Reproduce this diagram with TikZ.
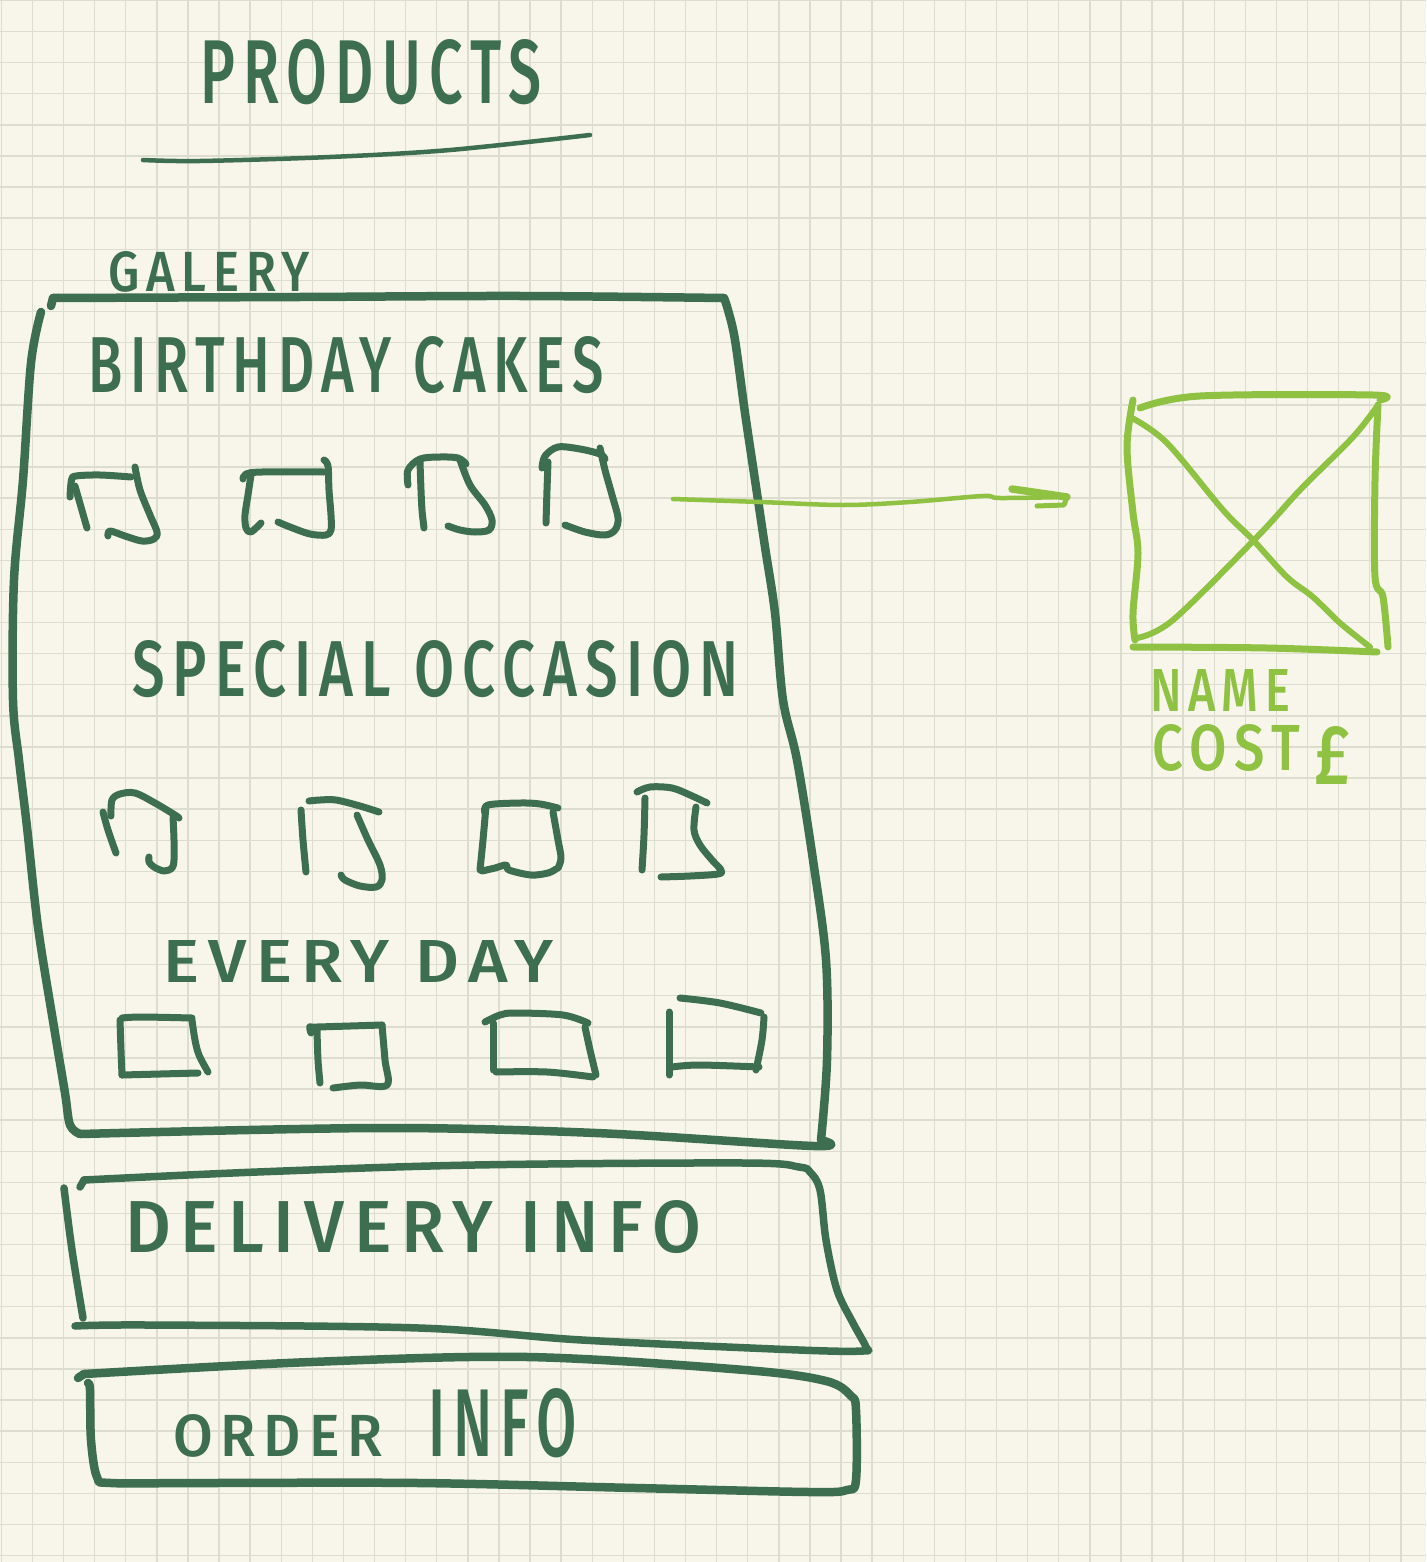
\documentclass[tikz,border=0pt]{standalone}
\usepackage{fontspec}
\usepackage{graphicx}
\setmainfont{Fira Sans}[UprightFont={* Medium}]
\definecolor{paper}{HTML}{F8F6EA}
\definecolor{gridc}{HTML}{DCDDCF}
\definecolor{ink}{HTML}{3D6E50}
\definecolor{lime}{HTML}{8FC142}
% scale a caps label to an exact width and cap height, with airy letter spacing
\newcommand{\hw}[3]{\resizebox{#1pt}{#2pt}{\fontsize{72}{72}\selectfont\addfontfeature{LetterSpace=14}#3}}
\tikzset{
  pen/.style={draw=ink, line width=7.5pt, line cap=round, line join=round},
  frame/.style={pen, line width=8.5pt},
  thumbline/.style={pen, line width=7pt},
  limepen/.style={draw=lime, line width=7pt, line cap=round, line join=round},
  label/.style={inner sep=0pt, outer sep=0pt, anchor=base west, text=ink},
  sm/.style={smooth, tension=0.55},
}
\begin{document}
\begin{tikzpicture}[x=1pt,y=-1pt]
\useasboundingbox (0,0) rectangle (1426,1562);
\fill[paper] (0,0) rectangle (1426,1562);
% squared paper
\foreach \k in {0,...,45} \draw[gridc, line width=1.4pt] ({1.3+31.1*\k},0) -- ({1.3+31.1*\k},1562);
\foreach \k in {0,...,50} \draw[gridc, line width=1.4pt] (0,{0.5+31.1*\k}) -- (1426,{0.5+31.1*\k});

% title and underline
\node[label] (title) at (200,104) {\hw{342}{64}{PRODUCTS}};
\draw[pen, line width=4.5pt] plot[sm] coordinates {(143,160) (200,161) (330,157) (450,150) (590,135)};

% gallery frame, one side at a time
\node[label] (galery) at (108,291) {\hw{202}{40}{GALERY}};
\draw[frame] (51,306) -- (53,298);
\draw[frame] plot[sm] coordinates {(53,298) (300,297) (520,296) (724,298)};
\draw[frame] plot[sm] coordinates {(724,298) (728,310) (735,340) (745,413) (755,480) (765,547) (775,613) (783,700) (797,760) (813,860) (826,960) (827,1060) (821,1140)};
\draw[frame] plot[sm] coordinates {(821,1140) (814,1146) (596,1133) (379,1128) (80,1134)};
\draw[frame] plot[sm] coordinates {(41,312) (31,363) (23,480) (14,580) (13,700) (19,760) (27,827) (38,927) (54,1027) (65,1093) (70,1125) (80,1134)};

\node[label] (birthday) at (88,392) {\hw{516}{56}{BIRTHDAY CAKES}};
\node[label] (special) at (132,696) {\hw{607}{56}{SPECIAL OCCASION}};
\node[label] (everyday) at (163,982) {\hw{390}{42}{EVERY DAY}};

% birthday cake thumbnails
\draw[thumbline] plot[sm] coordinates {(70,497) (71.5,480) (76,476) (100,475) (131,477)};
\draw[thumbline] plot[sm] coordinates {(75,486) (81,507) (87,528)};
\draw[thumbline] plot[sm] coordinates {(135,467) (140,490) (150,515) (157,532) (154,539) (142,541) (125,536) (110,531) (108,536)};
\draw[thumbline] plot[sm] coordinates {(243,479) (246,474) (262,472) (324,472)};
\draw[thumbline] plot[sm] coordinates {(251,475) (248,495) (245,515) (246,528) (251,532) (261,523)};
\draw[thumbline] plot[sm] coordinates {(324,460) (328,466) (329,490) (331,515) (331,530) (326,535) (310,534) (290,527) (278,522)};
\draw[thumbline] plot[sm] coordinates {(408,485) (408,470) (420,459) (440,457) (458,458) (466,464)};
\draw[thumbline] plot[sm] coordinates {(420,462) (421,490) (422,510) (424,528)};
\draw[thumbline] plot[sm] coordinates {(460,460) (470,485) (485,505) (492,520) (489,530) (475,532) (460,530) (448,526)};
\draw[thumbline] plot[sm] coordinates {(542,468) (545,456) (558,447) (580,449) (600,454) (605,459)};
\draw[thumbline] plot[sm] coordinates {(548,462) (547,490) (546,523)};
\draw[thumbline] plot[sm] coordinates {(600,448) (605,470) (612,495) (618,518) (615,530) (605,535) (585,532) (565,525)};

% special occasion thumbnails
\draw[thumbline] plot[sm] coordinates {(103,812) (108,830) (116,853)};
\draw[thumbline] plot[sm] coordinates {(111,816) (112,800) (120,794) (135,793) (155,803) (175,815) (179,818)};
\draw[thumbline] plot[sm] coordinates {(173,817) (174,840) (174,860) (172,868) (164,871) (154,867) (149,862) (149,857)};
\draw[thumbline] plot[sm] coordinates {(301,810) (303,840) (306,872)};
\draw[thumbline] plot[sm] coordinates {(309,801) (320,800) (336,800) (360,806) (379,812)};
\draw[thumbline] plot[sm] coordinates {(357,815) (368,840) (380,865) (382,880) (376,887) (360,886) (345,880) (341,875)};
\draw[thumbline] plot[sm] coordinates {(485,813) (488,805) (520,803) (540,804) (558,808)};
\draw[thumbline] plot[sm] coordinates {(486,806) (483,840) (480,870)};
\draw[thumbline] plot[sm] coordinates {(553,812) (558,840) (561,858) (558,868)};
\draw[thumbline] plot[sm] coordinates {(482,871) (495,868) (506,865) (509,870) (531,875) (548,873) (556,869)};
\draw[thumbline] plot[sm] coordinates {(637,792) (650,787) (672,788) (690,795) (707,803)};
\draw[thumbline] plot[sm] coordinates {(645,798) (644,835) (642,870)};
\draw[thumbline] plot[sm] coordinates {(696,807) (694,830) (700,845) (712,860) (721,870) (718,874) (690,876) (661,877)};

% every day thumbnails
\draw[thumbline] plot[sm] coordinates {(122,1018) (141,1017) (192,1018)};
\draw[thumbline] plot[sm] coordinates {(120,1020) (121,1050) (122,1075)};
\draw[thumbline] plot[sm] coordinates {(192,1020) (195,1040) (199,1055) (208,1072)};
\draw[thumbline] plot[sm] coordinates {(122,1075) (160,1074) (198,1073)};
\draw[thumbline] plot[sm] coordinates {(311,1033) (310,1027) (317,1027) (382,1025)};
\draw[thumbline] plot[sm] coordinates {(317,1030) (318,1060) (320,1083)};
\draw[thumbline] plot[sm] coordinates {(382,1025) (385,1060) (387,1085) (360,1085) (333,1088)};
\draw[thumbline] plot[sm] coordinates {(485,1022) (500,1015) (515,1013) (563,1015) (588,1023)};
\draw[thumbline] plot[sm] coordinates {(493,1023) (493,1050) (493,1070)};
\draw[thumbline] plot[sm] coordinates {(496,1072) (547,1072) (593,1077)};
\draw[thumbline] plot[sm] coordinates {(585,1027) (590,1050) (596,1075)};
\draw[thumbline] plot[sm] coordinates {(680,998) (720,1003) (761,1013)};
\draw[thumbline] plot[sm] coordinates {(669,1012) (669,1045) (669,1075)};
\draw[thumbline] plot[sm] coordinates {(672,1067) (699,1065) (759,1067)};
\draw[thumbline] plot[sm] coordinates {(764,1017) (762,1040) (756,1070)};

% delivery info
\draw[pen] (80,1187) -- (84,1180);
\draw[pen] plot[sm] coordinates {(84,1180) (257,1172) (474,1165) (745,1163) (799,1167) (810,1172) (820,1190) (826,1240) (837,1290) (853,1323) (866,1347) (863,1351) (799,1350) (582,1340) (419,1328) (148,1325) (75,1326)};
\draw[pen] plot[sm] coordinates {(64,1188) (72,1250) (83,1318)};
\node[label] (delivery) at (125,1252) {\hw{576}{52}{DELIVERY INFO}};

% order info
\draw[frame] (78,1378) -- (84,1374);
\draw[frame] plot[sm] coordinates {(84,1374) (311,1362) (528,1357) (745,1370) (826,1381) (851,1396) (856,1410) (856,1480) (847,1490) (810,1492) (636,1488) (419,1483) (203,1483) (111,1483) (97,1477) (91,1440) (90,1390) (88,1383)};
\node[label] (order) at (173,1456) {\hw{210}{42}{ORDER}\hspace{45pt}\hw{149}{68}{INFO}};

% arrow to the detail view
\coordinate (arrowtail) at (673,499);
\coordinate (arrowtip) at (1067,497);
\draw[limepen, line width=4.5pt] plot[sm] coordinates {(arrowtail) (760,502) (843,505) (910,502) (983,496) (1000,498) (arrowtip)};
\draw[limepen, line width=7.5pt] (1012,489) -- (arrowtip);
\draw[limepen, line width=5pt] (1037,506) -- (1064,505) -- (arrowtip);

% product detail placeholder
\draw[limepen] plot[sm] coordinates {(1140,408) (1200,396) (1373,395) (1380,400)};
\draw[limepen] plot[sm] coordinates {(1133,400) (1127,447) (1133,513) (1138,553) (1133,613) (1135,640)};
\draw[limepen] plot[sm] coordinates {(1133,647) (1267,648) (1377,652)};
\draw[limepen] plot[sm] coordinates {(1378,405) (1375,480) (1375,577) (1383,597) (1388,647)};
\draw[limepen, line width=6pt] plot[sm] coordinates {(1132,418) (1167,443) (1223,510) (1253,540) (1287,577) (1313,597) (1340,623) (1370,647)};
\draw[limepen, line width=6pt] plot[sm] coordinates {(1137,638) (1173,620) (1257,537) (1300,490) (1353,437) (1378,405)};
\node[label, text=lime] (name) at (1150,711) {\hw{140}{42}{NAME}};
\node[label, text=lime] (cost) at (1152,770) {\hw{148}{46}{COST}\hspace{14pt}\raisebox{-14pt}{\hw{36}{58}{£}}};
\end{tikzpicture}
\end{document}
